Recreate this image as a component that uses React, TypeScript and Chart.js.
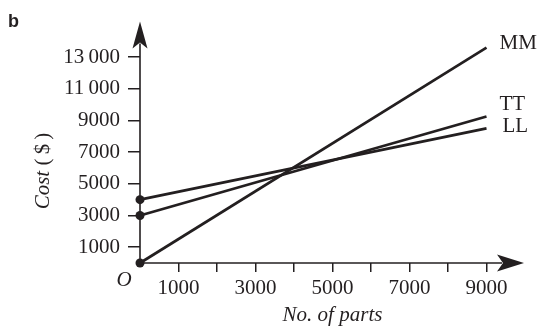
import React, { useEffect, useRef } from "react";
import { Chart, registerables } from "chart.js";

Chart.register(...registerables);

// ---- data ----
const parts = [0, 9000];
const mmCost = [0, 13600];
const ttCost = [3000, 9250];
const llCost = [4000, 8500];
const seriesNames = ["MM", "TT", "LL"];

const xTickValues = [1000, 2000, 3000, 4000, 5000, 6000, 7000, 8000, 9000];
const xTickLabels = ["1000", "", "3000", "", "5000", "", "7000", "", "9000"];
const yTickValues = [1000, 3000, 5000, 7000, 9000, 11000, 13000];
const yTickLabels = ["1000", "3000", "5000", "7000", "9000", "11\u2009000", "13\u2009000"];

const xTitle = "No. of parts";
const yTitleItalic = "Cost";
const yTitleRest = " (\u2009$\u2009)";
const panelLetter = "b";
const originLabel = "O";

const INK = "#231f20";
const SERIF = "'Liberation Serif', 'Times New Roman', serif";
const FS = 21;

const axesPlugin = {
  id: "arrowAxes",
  beforeDatasetsDraw(chart: any) {
    const { ctx, chartArea: a, scales } = chart;
    const x0 = scales.x.getPixelForValue(0);
    const y0 = scales.y.getPixelForValue(0);
    ctx.save();
    ctx.strokeStyle = INK;
    ctx.fillStyle = INK;
    ctx.lineWidth = 1.6;
    // y axis
    const tipY = a.top + 1;
    ctx.beginPath();
    ctx.moveTo(x0, y0);
    ctx.lineTo(x0, tipY + 22);
    ctx.stroke();
    ctx.beginPath();
    ctx.moveTo(x0, tipY);
    ctx.lineTo(x0 + 7.5, tipY + 27);
    ctx.lineTo(x0, tipY + 21);
    ctx.lineTo(x0 - 7.5, tipY + 27);
    ctx.closePath();
    ctx.fill();
    // x axis
    const tipX = a.right - 1;
    ctx.beginPath();
    ctx.moveTo(x0, y0);
    ctx.lineTo(tipX - 22, y0);
    ctx.stroke();
    ctx.beginPath();
    ctx.moveTo(tipX, y0);
    ctx.lineTo(tipX - 27, y0 - 8.5);
    ctx.lineTo(tipX - 21, y0);
    ctx.lineTo(tipX - 27, y0 + 8.5);
    ctx.closePath();
    ctx.fill();
    ctx.restore();
  },
  afterDraw(chart: any) {
    const { ctx, chartArea: a, scales } = chart;
    const x0 = scales.x.getPixelForValue(0);
    const y0 = scales.y.getPixelForValue(0);
    ctx.save();
    ctx.fillStyle = INK;
    // series labels at line ends
    const dx = [13, 13, 16];
    const dy = [-4, -12, -2];
    chart.data.datasets.forEach((ds: any, i: number) => {
      const meta = chart.getDatasetMeta(i);
      const pt = meta.data[meta.data.length - 1];
      ctx.font = `${FS}px ${SERIF}`;
      ctx.textAlign = "left";
      ctx.textBaseline = "middle";
      ctx.fillText(ds.label, pt.x + dx[i], pt.y + dy[i]);
    });
    // origin
    ctx.font = `italic ${FS}px ${SERIF}`;
    ctx.textAlign = "center";
    ctx.textBaseline = "middle";
    ctx.fillText(originLabel, x0 - 16, y0 + 17);
    // x title
    ctx.fillText(xTitle, (a.left + a.right) / 2, y0 + 52);
    // y title (rotated, mixed styles)
    ctx.save();
    ctx.translate(43, 171);
    ctx.rotate(-Math.PI / 2);
    ctx.font = `italic ${FS}px ${SERIF}`;
    const w1 = ctx.measureText(yTitleItalic).width;
    ctx.font = `${FS}px ${SERIF}`;
    const w2 = ctx.measureText(yTitleRest).width;
    const start = -(w1 + w2) / 2;
    ctx.textAlign = "left";
    ctx.font = `italic ${FS}px ${SERIF}`;
    ctx.fillText(yTitleItalic, start, 0);
    ctx.font = `${FS}px ${SERIF}`;
    ctx.fillText(yTitleRest, start + w1, 0);
    ctx.restore();
    // panel letter
    ctx.font = `bold 18px 'Liberation Sans Narrow', 'Liberation Sans', sans-serif`;
    ctx.textAlign = "left";
    ctx.textBaseline = "alphabetic";
    ctx.fillText(panelLetter, 8, 27);
    ctx.restore();
  },
};

function makeSeries(label: string, ys: number[]) {
  return {
    label,
    data: parts.map((x, i) => ({ x, y: ys[i] })),
    borderColor: INK,
    backgroundColor: INK,
    borderWidth: 2.7,
    pointRadius: [4.5, 0],
    pointHoverRadius: 0,
    pointBackgroundColor: INK,
    pointBorderWidth: 0,
    clip: false,
    tension: 0,
  };
}

export default function App() {
  const ref = useRef<HTMLCanvasElement | null>(null);
  useEffect(() => {
    if (!ref.current) return;
    const chart = new Chart(ref.current, {
      type: "line",
      data: {
        datasets: [
          makeSeries(seriesNames[0], mmCost),
          makeSeries(seriesNames[1], ttCost),
          makeSeries(seriesNames[2], llCost),
        ],
      },
      options: {
        responsive: false,
        animation: false,
        devicePixelRatio: 1,
        layout: { padding: { top: 12, right: 14, left: 0, bottom: 0 } },
        plugins: { legend: { display: false }, tooltip: { enabled: false } },
        events: [],
        scales: {
          x: {
            type: "linear",
            min: 0,
            max: 10000,
            afterBuildTicks: (s: any) => {
              s.ticks = xTickValues.map((v) => ({ value: v }));
            },
            afterFit: (s: any) => {
              s.height = 64;
            },
            ticks: {
              autoSkip: false,
              maxRotation: 0,
              padding: 4,
              color: INK,
              font: { family: SERIF, size: FS },
              callback: (_v: any, i: number) => xTickLabels[i],
            },
            grid: {
              display: true,
              drawOnChartArea: false,
              drawTicks: true,
              tickLength: 9,
              color: INK,
              lineWidth: 1.5,
            },
            border: { display: false },
          },
          y: {
            type: "linear",
            min: 0,
            max: 15300,
            afterBuildTicks: (s: any) => {
              s.ticks = yTickValues.map((v) => ({ value: v }));
            },
            afterFit: (s: any) => {
              s.width = 140;
            },
            ticks: {
              autoSkip: false,
              padding: 8,
              color: INK,
              font: { family: SERIF, size: FS },
              callback: (_v: any, i: number) => yTickLabels[i],
            },
            grid: {
              display: true,
              drawOnChartArea: false,
              drawTicks: true,
              tickLength: 12,
              color: INK,
              lineWidth: 1.5,
            },
            border: { display: false },
          },
        },
      } as any,
      plugins: [axesPlugin],
    });
    return () => chart.destroy();
  }, []);
  return (
    <div style={{ position: "fixed", left: 0, top: 0, width: 539, height: 327, background: "#fff" }}>
      <canvas ref={ref} width={539} height={327} />
    </div>
  );
}
